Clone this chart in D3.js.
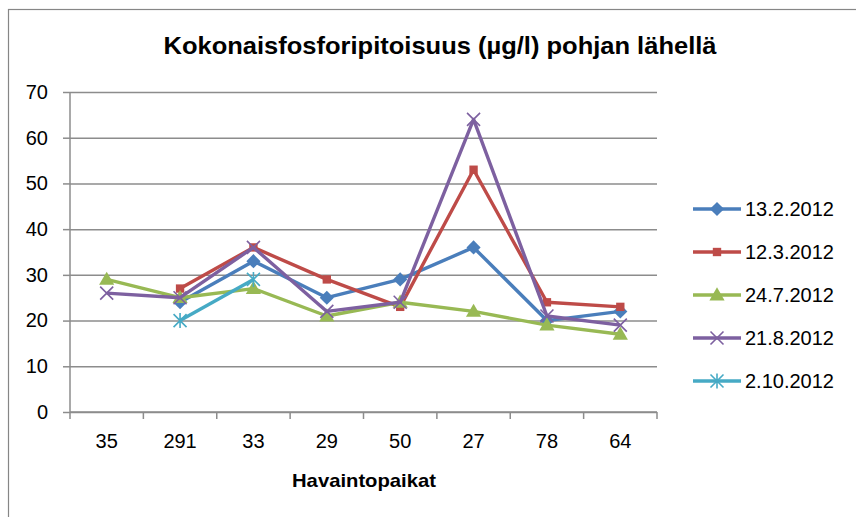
<!DOCTYPE html>
<html>
<head>
<meta charset="utf-8">
<script src="https://cdn.jsdelivr.net/npm/d3@7"></script>
<style>
  body { margin: 0; background: #fff; }
  svg { display: block; font-family: "Liberation Sans", Arial, sans-serif; }
</style>
</head>
<body>
<div class="box"></div>
<script>
// data
let places = ["35", "291", "33", "29", "50", "27", "78", "64"]
let yTicks = [0, 10, 20, 30, 40, 50, 60, 70]
let dates = ["13.2.2012", "12.3.2012", "24.7.2012", "21.8.2012", "2.10.2012"]
let s1 = [null, 24, 33, 25, 29, 36, 20, 22]
let s2 = [null, 27, 36, 29, 23, 53, 24, 23]
let s3 = [29, 25, 27, 21, 24, 22, 19, 17]
let s4 = [26, 25, 36, 22, 24, 64, 21, 19]
let s5 = [null, 20, 29, null, null, null, null, null]

let values = [s1, s2, s3, s4, s5]
let colors = ["#4a7ebb", "#be4b48", "#98b954", "#7d60a0", "#46aac5"]
let marks = ["diamond", "square", "triangle", "x", "star"]

let W = 856, H = 517
let pl = 70, pr = 657, pt = 92, pb = 412

let svg = d3.select('.box')
  .append("svg")
  .attr("width", W)
  .attr("height", H)

// chart frame (only top/left edge visible in the crop)
svg.append("rect")
  .attr("x", 8.5).attr("y", 9.5)
  .attr("width", 900).attr("height", 600)
  .style("fill", "none")
  .style("stroke", "#868686")
  .style("stroke-width", 1.2)

let x = d3.scaleBand().domain(places).range([pl, pr])
let y = d3.scaleLinear().domain([0, 70]).range([pb, pt])

// grid
svg.append("g")
  .attr("transform", `translate(${pl},0)`)
  .call(d3.axisLeft(y).tickValues(yTicks).tickSize(-(pr - pl)).tickFormat(""))
  .call(g => g.select(".domain").remove())
  .call(g => g.selectAll("line").style("stroke", "#8c8c8c").style("stroke-width", 1.5))

// y axis
svg.append("g")
  .attr("transform", `translate(${pl},0)`)
  .call(d3.axisLeft(y).tickValues(yTicks).tickSize(7).tickPadding(15))
  .call(g => g.select(".domain").remove())
  .call(g => g.selectAll("line").style("stroke", "#8c8c8c").style("stroke-width", 1.5))
  .call(g => g.selectAll("text").style("font-size", "20px").style("fill", "#000")
    .style("font-family", "Liberation Sans, Arial, sans-serif"))

svg.append("line")
  .attr("x1", pl).attr("x2", pl)
  .attr("y1", pt).attr("y2", pb)
  .style("stroke", "#8c8c8c").style("stroke-width", 1.5)

// x axis: labels at band centers, ticks at band edges
svg.append("g")
  .attr("transform", `translate(0,${pb})`)
  .call(d3.axisBottom(x).tickSize(0).tickPadding(22))
  .call(g => g.select(".domain").remove())
  .call(g => g.selectAll("text").style("font-size", "20px").style("fill", "#000")
    .style("font-family", "Liberation Sans, Arial, sans-serif"))

svg.append("line")
  .attr("x1", pl).attr("x2", pr)
  .attr("y1", pb).attr("y2", pb)
  .style("stroke", "#8c8c8c").style("stroke-width", 1.5)

let edges = places.map(p => x(p)).concat([x.range()[1]])
svg.append("g").selectAll("line")
  .data(edges)
  .join("line")
  .attr("x1", d => d).attr("x2", d => d)
  .attr("y1", pb).attr("y2", pb + 7)
  .style("stroke", "#8c8c8c").style("stroke-width", 1.5)

// title and axis title
svg.append("text")
  .attr("x", 440).attr("y", 54)
  .attr("text-anchor", "middle")
  .attr("textLength", 553)
  .attr("lengthAdjust", "spacingAndGlyphs")
  .style("font-size", "24px")
  .style("font-weight", "bold")
  .text("Kokonaisfosforipitoisuus (µg/l) pohjan lähellä")

svg.append("text")
  .attr("x", 364).attr("y", 487)
  .attr("text-anchor", "middle")
  .attr("textLength", 144)
  .attr("lengthAdjust", "spacingAndGlyphs")
  .style("font-size", "19px")
  .style("font-weight", "bold")
  .text("Havaintopaikat")

// markers
let mark = (g, kind, color, cx, cy) => {
  if (kind == "diamond") {
    g.append("path").attr("d", d3.symbol(d3.symbolSquare, 100)())
      .attr("transform", `translate(${cx},${cy}) rotate(45)`).style("fill", color)
  } else if (kind == "square") {
    g.append("path").attr("d", d3.symbol(d3.symbolSquare, 70)())
      .attr("transform", `translate(${cx},${cy})`).style("fill", color)
  } else if (kind == "triangle") {
    g.append("path").attr("d", d3.symbol(d3.symbolTriangle, 100)())
      .attr("transform", `translate(${cx},${cy + 1})`).style("fill", color)
  } else {
    let r = 6.5
    let p = d3.path()
    p.moveTo(-r, -r); p.lineTo(r, r)
    p.moveTo(-r, r); p.lineTo(r, -r)
    if (kind == "star") { p.moveTo(0, -r - 1); p.lineTo(0, r + 1) }
    g.append("path").attr("d", p.toString())
      .attr("transform", `translate(${cx},${cy})`)
      .style("fill", "none").style("stroke", color).style("stroke-width", 1.6)
  }
}

let line = d3.line()
  .defined(d => d != null)
  .x((d, i) => x(places[i]) + x.bandwidth() / 2)
  .y(d => y(d))

values.forEach((vals, k) => {
  let g = svg.append("g")
  g.append("path")
    .attr("d", line(vals))
    .style("fill", "none")
    .style("stroke", colors[k])
    .style("stroke-width", 3.4)
    .style("stroke-linejoin", "round")
  vals.forEach((v, i) => {
    if (v == null) return
    mark(g, marks[k], colors[k], x(places[i]) + x.bandwidth() / 2, y(v))
  })
})

// legend
let ly = d3.scalePoint().domain(dates).range([209, 381])
dates.forEach((d, k) => {
  let g = svg.append("g")
  g.append("line")
    .attr("x1", 693).attr("x2", 741)
    .attr("y1", ly(d)).attr("y2", ly(d))
    .style("stroke", colors[k]).style("stroke-width", 3.4)
  mark(g, marks[k], colors[k], 717, ly(d))
  g.append("text")
    .attr("x", 745).attr("y", ly(d) + 7)
    .style("font-size", "20px")
    .text(d)
})
</script>
</body>
</html>
